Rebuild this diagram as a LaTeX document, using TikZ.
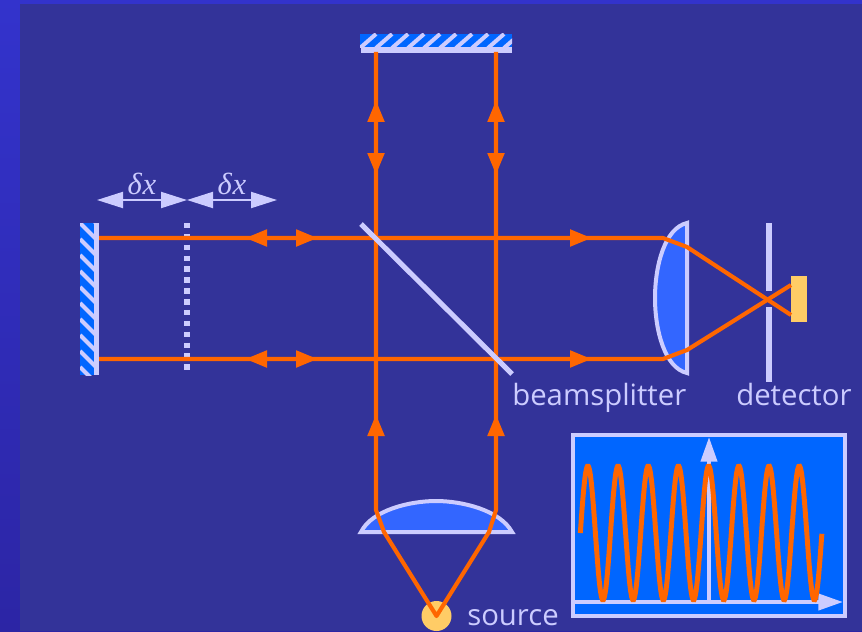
\documentclass[tikz,border=0pt]{standalone}
\usepackage{fontspec}
\setmainfont{Open Sans}
\newfontfamily\deltafont{Liberation Serif}
\usetikzlibrary{arrows.meta}
\definecolor{slide}{HTML}{333399}
\definecolor{slideedge}{HTML}{3333CC}
\definecolor{slidelow}{HTML}{2C25A5}
\definecolor{pale}{HTML}{CCCCFF}
\definecolor{beam}{HTML}{FF6600}
\definecolor{glass}{HTML}{3366FF}
\definecolor{mirrorblue}{HTML}{0066FF}
\definecolor{lamp}{HTML}{FFCC66}
\tikzset{
	ray/.style={draw=beam,line width=3.1pt,line join=round},
	rayhead/.style={draw=beam,line width=3.7pt,-{Triangle[length=16.5pt,width=12pt,fill=beam]}},
	palehead/.style={draw=pale,line width=1.5pt,{Triangle[length=19.5pt,width=12pt,fill=pale]}-{Triangle[length=19.5pt,width=12pt,fill=pale]}},
	lensglass/.style={draw=pale,fill=glass,line width=3pt},
	labeltext/.style={text=pale,font=\fontsize{22pt}{24pt}\selectfont,inner sep=0pt,anchor=base west},
	deltatext/.style={text=pale,font=\deltafont\itshape\fontsize{23pt}{24pt}\selectfont,inner sep=0pt}
}
\begin{document}
\begin{tikzpicture}[x=0.75pt,y=-0.75pt]
	\useasboundingbox (0,0) rectangle (862,631);
	\shade [top color=slideedge,bottom color=slidelow](0,0) rectangle (862,631);
	\fill [slide](20,4) rectangle (862,631);

	% mirrors
	\begin{scope}
		\clip (80,223) rectangle (95,375);
		\fill [mirrorblue](80,223) rectangle (95,375);
		\foreach \y in {207,223,...,375}
			\draw [pale,line width=3pt](80,\y)--(96,\y+16);
	\end{scope}
	\draw [pale,line width=4pt](96.5,223)--(96.5,375);
	\begin{scope}
		\clip (360,34) rectangle (512,48);
		\fill [mirrorblue](360,34) rectangle (512,48);
		\foreach \x in {360,376,...,520}
			\draw [pale,line width=3pt](\x,48)--(\x+16,34);
	\end{scope}
	\draw [pale,line width=4pt](361,50)--(512,50);

	% lenses
	\draw [lensglass](687,223) .. controls (665,228) and (655,265) .. (655,298) .. controls (655,331) and (665,368) .. (687,373)--cycle;
	\draw [lensglass](361,532) .. controls (372,510) and (410,501) .. (436,501) .. controls (462,501) and (500,510) .. (512,532)--cycle;

	% detector and source
	\fill [lamp](791,276) rectangle (807,322);
	\draw [pale,line width=4pt](769,223)--(769,291);
	\draw [pale,line width=4pt](769,307)--(769,382);
	\node (source) [circle,fill=lamp,minimum size=22.5pt,inner sep=0pt] at (436.5,616) {};

	% moving plane
	\draw [pale,line width=4.1pt,dash pattern=on 4.1pt off 4.05pt](187,223)--(187,371);

	% rays
	\coordinate (mirrorL1) at (99,238);
	\coordinate (mirrorL2) at (99,359);
	\coordinate (mirrorT1) at (376,52);
	\coordinate (mirrorT2) at (496,52);
	\coordinate (lensR1) at (663,238);
	\coordinate (lensR2) at (663,359);
	\coordinate (lensB1) at (376,510);
	\coordinate (lensB2) at (496,510);
	\draw [ray](mirrorL1)--(lensR1)--(687,247)--(791,315);
	\draw [ray](mirrorL2)--(lensR2)--(687,350)--(791,285);
	\draw [ray](mirrorT1)--(lensB1)--(384,532)--(436.5,616)--(489,532)--(lensB2)--(mirrorT2);
	\foreach \y in {238,359}{
		\draw [rayhead](282,\y)--(245,\y);
		\draw [rayhead](282,\y)--(318,\y);
		\draw [rayhead](560,\y)--(592,\y);
	}
	\foreach \x in {376,496}{
		\draw [rayhead](\x,137)--(\x,100);
		\draw [rayhead](\x,137)--(\x,175);
		\draw [rayhead](\x,450)--(\x,414);
	}

	% beamsplitter
	\draw [pale,line width=3.8pt](361,224)--(512,374);

	% shift arrows
	\coordinate (shiftA) at (97,200);
	\coordinate (shiftB) at (187,200);
	\coordinate (shiftC) at (277,200);
	\draw [palehead](shiftA)--(shiftB);
	\draw [palehead](shiftB)--(shiftC);
	\node (deltaA) [deltatext] at (142,184) {δ\kern0.5pt x};
	\node (deltaB) [deltatext] at (232,184) {δ\kern0.5pt x};

	% labels
	\node (splitlabel) [labeltext] at (512,405) {beamsplitter};
	\node (detlabel) [labeltext] at (736,405) {detector};
	\node (sourcelabel) [labeltext] at (467,625) {source};

	% interferogram
	\draw [pale,fill=mirrorblue,line width=3pt](573,435) rectangle (845,616);
	\draw [draw=pale,line width=3pt,-{Triangle[length=18.5pt,width=12pt,fill=pale]}](709,602)--(709,437);
	\draw [draw=pale,line width=3pt,-{Triangle[length=18.5pt,width=12pt,fill=pale]}](575,602)--(843,602);
	\draw [beam,line width=3.7pt,line cap=butt,smooth,domain=0:8,samples=241] plot ({580.3+\x*30.2},{533-67*sin(360*\x)});
\end{tikzpicture}
\end{document}
